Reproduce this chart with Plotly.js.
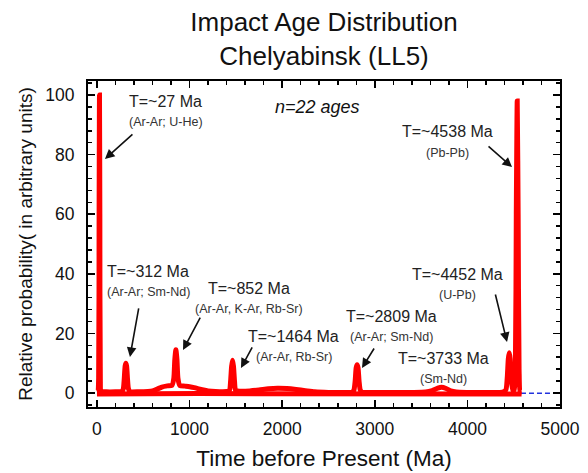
<!DOCTYPE html>
<html>
<head>
<meta charset="utf-8">
<script src="https://cdn.plot.ly/plotly-3.0.1.min.js"></script>
<style>html,body{margin:0;padding:0;background:#fff;}#chart{width:588px;height:473px;}</style>
</head>
<body>
<div id="chart"></div>
<script>
// Main probability curve (Ma, relative probability)
const ageMa = [0, 10, 18, 23, 27, 31, 36, 45, 100, 200, 270, 285, 295, 304, 312, 320, 329, 339, 355, 450,
  550, 600, 650, 700, 760, 810, 830, 840, 852, 864, 874, 895, 950, 1000, 1050, 1100, 1150, 1200, 1280,
  1400, 1430, 1443, 1454, 1464, 1474, 1485, 1498, 1550, 1650, 1750, 1850, 1950, 2050, 2150, 2250, 2350,
  2500, 2650, 2760, 2775, 2788, 2799, 2809, 2819, 2830, 2843, 2860, 3000, 3200, 3400, 3550, 3620, 3680,
  3720, 3770, 3820, 3880, 4000, 4200, 4380, 4415, 4430, 4442, 4452, 4462, 4474, 4490, 4505, 4518, 4528,
  4538, 4548, 4558, 4570, 4585];
const probability = [0.4, 0.6, 5, 60, 100, 60, 5, 0.6, 0.4, 0.4, 0.5, 1.5, 5, 9, 10, 9, 5, 1.5, 0.5, 0.4,
  0.5, 0.7, 1.3, 2.0, 2.4, 2.6, 5, 11, 14.5, 11, 5, 2.5, 2.3, 2.1, 1.8, 1.4, 1.0, 0.7, 0.5,
  0.5, 0.8, 4, 9, 11, 9, 4, 0.8, 0.6, 0.7, 1.0, 1.4, 1.6, 1.5, 1.2, 0.8, 0.4,
  0.2, 0.2, 0.3, 1, 4, 8.5, 9.5, 8.5, 4, 1, 0.3, 0.2, 0.2, 0.2, 0.3, 0.8, 1.6,
  1.9, 1.5, 0.7, 0.3, 0.2, 0.2, 0.3, 1, 5, 11.5, 13.5, 11.5, 5, 1, 1, 8, 60,
  98, 60, 8, 0.4, 0.3];

// Lower companion curve (visible as the second red line under the ~850 Ma bump)
const lowAgeMa = [0, 600, 1100, 4585];
const lowProbability = [-0.3, -0.2, -0.2, -0.3];

// Blue dashed zero line
const zeroAgeMa = [0, 5000];
const zeroValue = [-0.1, -0.1];

// Axis ticks
const xTicks = [0, 1000, 2000, 3000, 4000, 5000];
const yTicks = [0, 20, 40, 60, 80, 100];

// Peak labels: [label, method, text x (Ma), text y, arrow head x (Ma), arrow head y, arrow dx px, arrow dy px]
const peakLabels = [
  ["T=~27 Ma", "(Ar-Ar; U-He)", 745, 97.7, 86, 78.5, 29, -26],
  ["T=~312 Ma", "(Ar-Ar; Sm-Nd)", 551, 40.9, 356, 12.1, 9, -50],
  ["T=~852 Ma", "(Ar-Ar, K-Ar, Rb-Sr)", 1641, 35.2, 929, 14.4, 18, -34],
  ["T=~1464 Ma", "(Ar-Ar, Rb-Sr)", 2127, 19.1, 1555, 8.4, 12, -22],
  ["T=~2809 Ma", "(Ar-Ar; Sm-Nd)", 3175, 25.8, 2862, 8.4, 13, -21],
  ["T=~3733 Ma", "(Sm-Nd)", 3747, 11.7, null, null, 0, 0],
  ["T=~4452 Ma", "(U-Pb)", 3898, 39.9, 4428, 17.1, -12, -49],
  ["T=~4538 Ma", "(Pb-Pb)", 3780, 87.6, 4482, 75.8, -25, -22]
];

const FONT = "Liberation Sans, Arial, sans-serif";
const annotations = [];
peakLabels.forEach(p => {
  annotations.push({x: p[2], y: p[3], xref: 'x', yref: 'y', text: p[0], showarrow: false,
    font: {family: FONT, size: 16, color: '#222'}, xanchor: 'center', yanchor: 'middle'});
  annotations.push({x: p[2], y: p[3] - 6.9, xref: 'x', yref: 'y', text: p[1], showarrow: false,
    font: {family: FONT, size: 12.5, color: '#333'}, xanchor: 'center', yanchor: 'middle'});
  if (p[4] !== null) {
    annotations.push({x: p[4], y: p[5], xref: 'x', yref: 'y', text: '', showarrow: true,
      ax: p[6], ay: p[7], axref: 'pixel', ayref: 'pixel', arrowhead: 2, arrowsize: 1.2,
      arrowwidth: 1.6, arrowcolor: '#111', standoff: 0, startstandoff: 0});
  }
});
annotations.push({x: 2376, y: 96, xref: 'x', yref: 'y', text: '<i>n=22 ages</i>', showarrow: false,
  font: {family: FONT, size: 18, color: '#111'}, xanchor: 'center', yanchor: 'middle'});

const traces = [
  {x: zeroAgeMa, y: zeroValue, type: 'scatter', mode: 'lines',
   line: {color: '#2233dd', width: 1.5, dash: '5px,3px'}, hoverinfo: 'skip'},
  {x: lowAgeMa, y: lowProbability, type: 'scatter', mode: 'lines',
   line: {color: '#ff0000', width: 5}, hoverinfo: 'skip'},
  {x: ageMa, y: probability, type: 'scatter', mode: 'lines',
   line: {color: '#ff0000', width: 5, shape: 'spline', smoothing: 0.6}, hoverinfo: 'skip'}
];

const axisCommon = {
  showline: true, linecolor: '#000', linewidth: 2, mirror: 'ticks',
  ticks: 'inside', ticklen: 7, tickwidth: 1.5, tickcolor: '#000',
  showgrid: false, zeroline: false,
  tickfont: {family: FONT, size: 17.5, color: '#111'}
};

const layout = {
  width: 588, height: 473,
  margin: {l: 88, r: 28, t: 81, b: 66, pad: 0},
  paper_bgcolor: '#fff', plot_bgcolor: '#fff',
  showlegend: false,
  font: {family: FONT, color: '#111'},
  title: {text: 'Impact Age Distribution<br>Chelyabinsk (LL5)', x: 0.5, xref: 'paper',
    y: 0.935, yref: 'container', yanchor: 'top', font: {family: FONT, size: 26, color: '#111'}},
  xaxis: Object.assign({}, axisCommon, {
    range: [-97, 5000], tickvals: xTicks, ticktext: xTicks.map(String),
    ticklabelstandoff: 5,
    minor: {dtick: 200, tick0: 0, ticks: 'inside', ticklen: 4, tickwidth: 1.5, tickcolor: '#000'},
    title: {text: 'Time before Present (Ma)', font: {family: FONT, size: 22.5, color: '#111'}, standoff: 12}
  }),
  yaxis: Object.assign({}, axisCommon, {
    range: [-4.7, 104.7], tickvals: yTicks, ticktext: yTicks.map(String),
    ticklabelstandoff: 8,
    minor: {dtick: 4, tick0: 0, ticks: 'inside', ticklen: 4, tickwidth: 1.5, tickcolor: '#000'},
    title: {text: 'Relative probability( in arbitrary units)', font: {family: FONT, size: 19, color: '#111'}, standoff: 8}
  }),
  annotations: annotations
};

Plotly.newPlot('chart', traces, layout, {staticPlot: true, displayModeBar: false});
</script>
</body>
</html>
